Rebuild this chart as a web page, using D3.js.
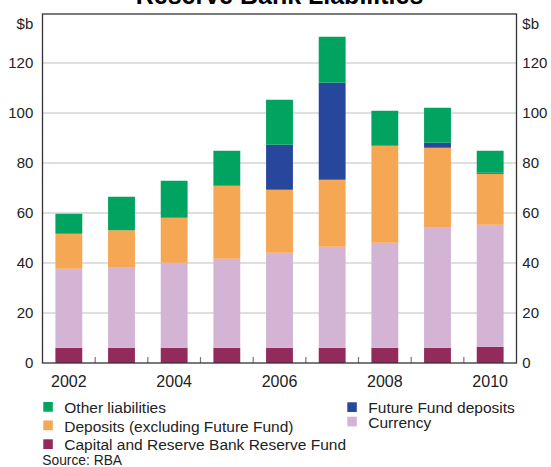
<!DOCTYPE html>
<html>
<head>
<meta charset="utf-8">
<script src="https://cdn.jsdelivr.net/npm/d3@7"></script>
<style>
  html, body { margin: 0; padding: 0; background: #fff; }
  svg { display: block; font-family: "Liberation Sans", Arial, sans-serif; }
</style>
</head>
<body>
<svg id="chart" width="551" height="467"></svg>
<script>
// ---- Data (A$ billion) ----
const years = ["2002","2003","2004","2005","2006","2007","2008","2009","2010"];
const capital = [6.1, 6.1, 6.1, 6.1, 6.1, 6.1, 6.1, 6.1, 6.5];
const currency = [31.6, 32.0, 34.0, 35.6, 38.0, 40.4, 42.0, 48.0, 48.8];
const deposits = [14.0, 15.0, 18.0, 29.2, 25.2, 26.8, 38.8, 32.0, 20.4];
const futureFund = [0, 0, 0, 0, 18.0, 38.8, 0, 2.0, 0.4];
const other = [8.0, 13.4, 14.8, 14.0, 18.0, 18.4, 14.0, 14.0, 8.8];
const yTicks = [0, 20, 40, 60, 80, 100, 120];
const xLabelYears = ["2002","2004","2006","2008","2010"];

const seriesKeys = ["capital","currency","deposits","futureFund","other"];
const colors = {
  capital: "#922b5c",
  currency: "#d3b4d5",
  deposits: "#f5a753",
  futureFund: "#27479c",
  other: "#00a35f"
};
const legendItems = [
  {key: "other", label: "Other liabilities", col: 0, row: 0},
  {key: "deposits", label: "Deposits (excluding Future Fund)", col: 0, row: 1},
  {key: "capital", label: "Capital and Reserve Bank Reserve Fund", col: 0, row: 2},
  {key: "futureFund", label: "Future Fund deposits", col: 1, row: 0},
  {key: "currency", label: "Currency", col: 1, row: 1}
];

const table = years.map((yr, i) => ({
  year: yr, capital: capital[i], currency: currency[i], deposits: deposits[i],
  futureFund: futureFund[i], other: other[i]
}));

const svg = d3.select("#chart");
const plotLeft = 42.5, plotRight = 516.5, plotTop = 13, plotBottom = 363;

const x = d3.scaleBand().domain(years).range([plotLeft, plotRight])
  .paddingInner(0.49).paddingOuter(0.245);
const y = d3.scaleLinear().domain([0, 140]).range([plotBottom, plotTop]);

// gridlines
svg.append("g").selectAll("line").data(yTicks.filter(d => d > 0)).join("line")
  .attr("x1", plotLeft).attr("x2", plotRight)
  .attr("y1", d => y(d)).attr("y2", d => y(d))
  .attr("stroke", "#d5d5d5").attr("stroke-width", 1.3);

// bars
const stacked = d3.stack().keys(seriesKeys)(table);
svg.append("g").selectAll("g").data(stacked).join("g")
  .attr("fill", d => colors[d.key])
  .selectAll("rect").data(d => d).join("rect")
  .attr("x", d => x(d.data.year))
  .attr("width", x.bandwidth())
  .attr("y", d => y(d[1]))
  .attr("height", d => Math.max(0, y(d[0]) - y(d[1])));

// tick marks between years
const step = x.step();
svg.append("g").selectAll("line").data(years.slice(1)).join("line")
  .attr("x1", d => x(d) - step * x.paddingInner() / 2)
  .attr("x2", d => x(d) - step * x.paddingInner() / 2)
  .attr("y1", plotBottom).attr("y2", plotBottom - 6)
  .attr("stroke", "#777").attr("stroke-width", 1.2);

// frame
svg.append("rect").attr("x", plotLeft).attr("y", 14).attr("width", plotRight - plotLeft).attr("height", plotBottom - 14)
  .attr("fill", "none").attr("stroke", "#333").attr("stroke-width", 1.3);

// axes
const xAxis = d3.axisBottom(x).tickSize(0).tickPadding(12.6)
  .tickFormat(d => xLabelYears.includes(d) ? d : "");
const gx = svg.append("g").attr("transform", `translate(0,${plotBottom})`).call(xAxis);
gx.select(".domain").remove();
gx.selectAll("text").attr("font-size", 16).attr("fill", "#222").attr("font-family", "Liberation Sans, Arial, sans-serif");

const yl = svg.append("g").attr("transform", `translate(${plotLeft},0)`)
  .call(d3.axisLeft(y).tickValues(yTicks).tickSize(0).tickPadding(9.2));
yl.select(".domain").remove();
yl.selectAll("text").attr("font-size", 15).attr("fill", "#222").attr("font-family", "Liberation Sans, Arial, sans-serif");

const yr = svg.append("g").attr("transform", `translate(${plotRight},0)`)
  .call(d3.axisRight(y).tickValues(yTicks).tickSize(0).tickPadding(5.8));
yr.select(".domain").remove();
yr.selectAll("text").attr("font-size", 15).attr("fill", "#222").attr("font-family", "Liberation Sans, Arial, sans-serif");

// unit labels
svg.append("text").attr("x", plotLeft - 9.2).attr("y", 28.5).attr("text-anchor", "end")
  .attr("font-size", 15).attr("fill", "#222").text("$b");
svg.append("text").attr("x", plotRight + 5.8).attr("y", 28.5).attr("text-anchor", "start")
  .attr("font-size", 15).attr("fill", "#222").text("$b");

// title (partially clipped at top)
svg.append("text").attr("x", (plotLeft + plotRight) / 2).attr("y", 4).attr("text-anchor", "middle")
  .attr("font-size", 25).attr("font-weight", "bold").attr("fill", "#000")
  .text("Reserve Bank Liabilities");

// legend
const colX = [43.3, 347.3];
const rowY = [[402, 420.5, 439.3], [402.3, 416.7]];
const lg = svg.append("g").selectAll("g").data(legendItems).join("g")
  .attr("transform", d => `translate(${colX[d.col]},${rowY[d.col][d.row]})`);
lg.append("rect").attr("width", 9.5).attr("height", 9.7).attr("fill", d => colors[d.key]);
lg.append("text").attr("x", 21).attr("y", 11).attr("font-size", 15.5).attr("fill", "#222")
  .text(d => d.label);

// source
svg.append("text").attr("x", 42.3).attr("y", 465).attr("font-size", 13.8).attr("fill", "#222")
  .text("Source: RBA");
</script>
</body>
</html>
